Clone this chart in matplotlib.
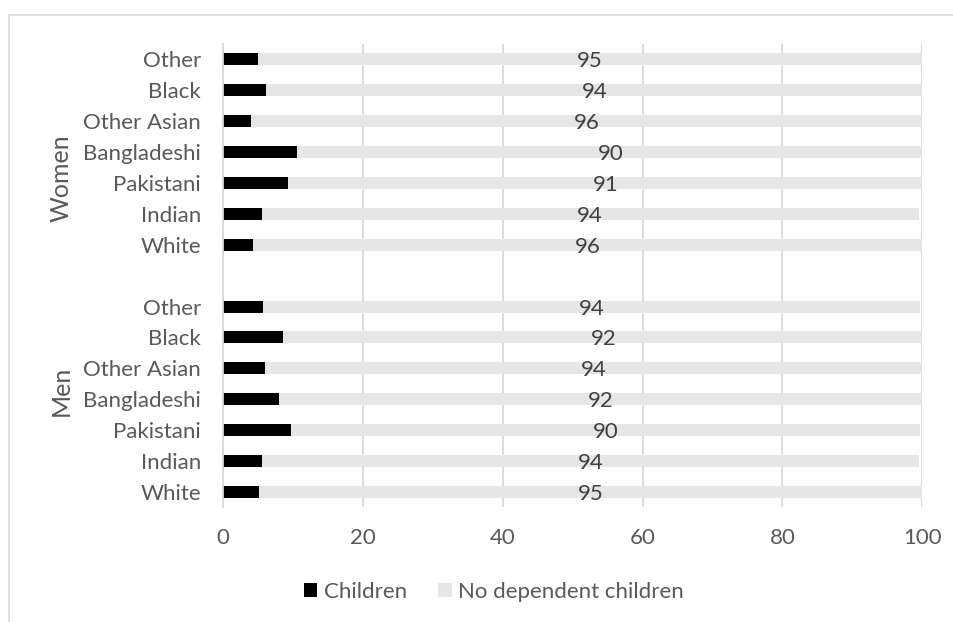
import numpy as np
import matplotlib
matplotlib.use("Agg")
import matplotlib.pyplot as plt
from matplotlib.lines import Line2D
from matplotlib.patches import Patch

plt.rcParams['font.family'] = ['Lato', 'DejaVu Sans']

# Ethnic groups, listed bottom to top within each sex
categories = ["White", "Indian", "Pakistani", "Bangladeshi", "Other Asian", "Black", "Other"]

# Percentages with and without dependent children
men_children = [5.1, 5.6, 9.7, 8.0, 6.0, 8.5, 5.7]
men_no_children = [95, 94, 90, 92, 94, 92, 94]
women_children = [4.2, 5.5, 9.25, 10.5, 3.96, 6.1, 4.96]
women_no_children = [96, 94, 91, 90, 96, 94, 95]

groups = ["Men", "Women"]

TEXT = '#595959'
GRID = '#d9d9d9'
FS = 16

fig = plt.figure(figsize=(9.54, 6.22), dpi=100)
ax = fig.add_axes([0.234, 0.1844, 0.7327, 0.7449])

men_pos = np.arange(len(categories))
women_pos = np.arange(len(categories)) + len(categories) + 1
pos = np.concatenate([men_pos, women_pos])
children = np.array(men_children + women_children)
no_children = np.array(men_no_children + women_no_children)

h = 0.39
ax.barh(pos, children, height=h, color='black', label='Children', zorder=2)
ax.barh(pos, no_children, left=children, height=h, color='#e6e6e6',
        label='No dependent children', zorder=2)
for y, c, n in zip(pos, children, no_children):
    ax.text(c + n / 2, y, f'{n:d}', ha='center', va='center_baseline',
            fontsize=FS, color='#404040', zorder=3)

ax.set_xlim(0, 100)
ax.set_ylim(-0.5, 2 * len(categories) + 0.5)
ax.set_xticks(range(0, 101, 20))
ax.set_yticks(pos)
ax.set_yticklabels(categories * 2)
ax.grid(axis='x', color=GRID, lw=1.3, zorder=0)
ax.set_axisbelow(True)
for s in ['top', 'right', 'bottom']:
    ax.spines[s].set_visible(False)
ax.spines['left'].set_color(GRID)
ax.spines['left'].set_linewidth(1.3)
ax.tick_params(axis='both', length=0, labelsize=FS, colors=TEXT)
ax.tick_params(axis='x', pad=15)
ax.tick_params(axis='y', pad=16)

# Group labels on the left
fig.text(61 / 954, 1 - 391 / 622, groups[0], rotation=90, ha='center', va='center',
         fontsize=18, color=TEXT)
fig.text(61 / 954, 1 - 178 / 622, groups[1], rotation=90, ha='center', va='center',
         fontsize=18, color=TEXT)

handles = [Patch(facecolor='black'), Patch(facecolor='#e6e6e6')]
fig.legend(handles, ['Children', 'No dependent children'], loc='center',
           bbox_to_anchor=(494 / 954, 1 - 592 / 622), ncol=2, frameon=False,
           fontsize=FS, labelcolor=TEXT, handlelength=0.6, handleheight=0.6,
           handletextpad=0.3, columnspacing=1.4)

# Chart frame
fig.add_artist(Line2D([9.5 / 954, 1], [1 - 14.5 / 622] * 2, transform=fig.transFigure,
                      color=GRID, lw=1.2))
fig.add_artist(Line2D([9.5 / 954] * 2, [0, 1 - 14.5 / 622], transform=fig.transFigure,
                      color=GRID, lw=1.2))

fig.savefig('out.png', dpi=100)
